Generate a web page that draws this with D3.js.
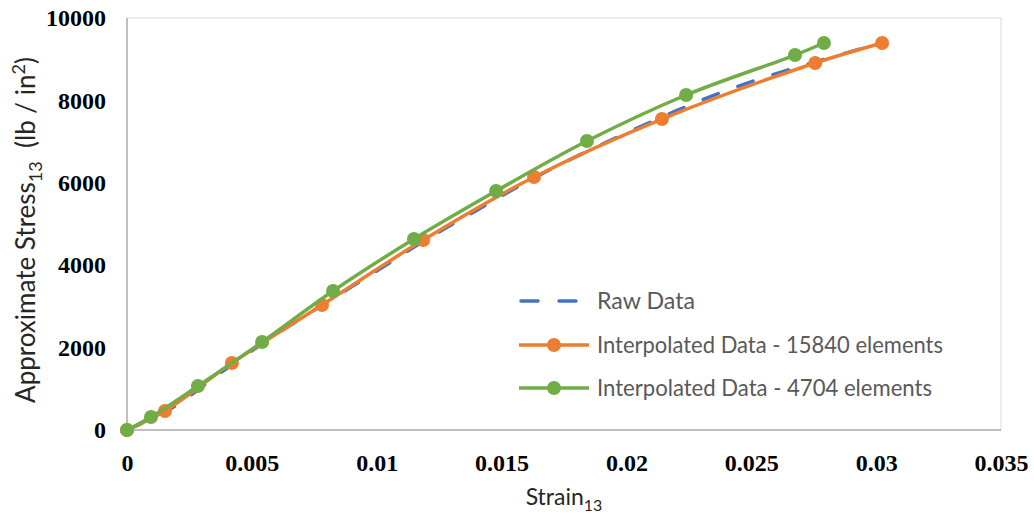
<!DOCTYPE html>
<html>
<head>
<meta charset="utf-8">
<script src="https://cdn.jsdelivr.net/npm/d3@7"></script>
<style>
  body { margin: 0; background: #fff; }
  #vis svg { display: block; }
</style>
</head>
<body>
<div id="vis"></div>
<script>
// data
let rawStrain = [0, 0.001, 0.002, 0.004, 0.006, 0.008, 0.01, 0.012, 0.014, 0.016, 0.018, 0.02, 0.022, 0.024, 0.026, 0.028, 0.0302];
let rawStress = [0, 280, 610, 1500, 2330, 3100, 3860, 4630, 5330, 6020, 6640, 7210, 7750, 8240, 8650, 9010, 9390];

let fineStrain = [0, 0.00152, 0.0042, 0.00781, 0.01186, 0.0163, 0.02142, 0.02756, 0.03024];
let fineStress = [0, 461, 1626, 3034, 4611, 6140, 7548, 8907, 9393];

let coarseStrain = [0, 0.00096, 0.00284, 0.00541, 0.00825, 0.01149, 0.01478, 0.01842, 0.02239, 0.02675, 0.02791];
let coarseStress = [0, 316, 1068, 2136, 3374, 4636, 5800, 7014, 8131, 9101, 9393];

let xTicks = [0, 0.005, 0.01, 0.015, 0.02, 0.025, 0.03, 0.035];
let yTicks = [0, 2000, 4000, 6000, 8000, 10000];

let seriesNames = ['Raw Data', 'Interpolated Data - 15840 elements', 'Interpolated Data - 4704 elements'];

let W = 1034, H = 516;
let plot = { left: 127, right: 1001, top: 18, bottom: 430 };

let svg = d3.select('#vis')
  .append('svg')
  .attr('width', W)
  .attr('height', H)
  .style('background-color', 'white');

let x = d3.scaleLinear().domain([0, 0.035]).range([plot.left, plot.right]);
let y = d3.scaleLinear().domain([0, 10000]).range([plot.bottom, plot.top]);

// plot area border
svg.append('rect')
  .attr('x', plot.left).attr('y', plot.top)
  .attr('width', plot.right - plot.left).attr('height', plot.bottom - plot.top)
  .attr('fill', 'none').attr('stroke', '#d9d9d9').attr('stroke-width', 1);
svg.append('line')
  .attr('x1', plot.left).attr('x2', plot.left).attr('y1', plot.top).attr('y2', plot.bottom)
  .attr('stroke', '#bfbfbf').attr('stroke-width', 2);
svg.append('line')
  .attr('x1', plot.left).attr('x2', plot.right).attr('y1', plot.bottom).attr('y2', plot.bottom)
  .attr('stroke', '#bfbfbf').attr('stroke-width', 2);

// axes (labels only, Excel style)
let xAxis = svg.append('g')
  .attr('transform', `translate(0,${plot.bottom})`)
  .call(d3.axisBottom(x).tickValues(xTicks).tickSize(0).tickPadding(24).tickFormat(d => d3.format('')(d)));
let yAxis = svg.append('g')
  .attr('transform', `translate(${plot.left},0)`)
  .call(d3.axisLeft(y).tickValues(yTicks).tickSize(0).tickPadding(21).tickFormat(d3.format('')));
[xAxis, yAxis].forEach(g => {
  g.select('.domain').remove();
  g.selectAll('text')
    .attr('fill', '#000')
    .style('font-family', '"Liberation Serif", "Times New Roman", serif')
    .style('font-weight', 'bold')
    .style('font-size', '24px');
});

// series
let toPts = (xs, ys) => xs.map((v, i) => [x(v), y(ys[i])]);
let line = d3.line().curve(d3.curveCatmullRom);

let series = [
  { pts: toPts(rawStrain, rawStress), color: '#4472c4', dash: '16,21', markers: false },
  { pts: toPts(fineStrain, fineStress), color: '#ed7d31', dash: null, markers: true },
  { pts: toPts(coarseStrain, coarseStress), color: '#70ad47', dash: null, markers: true },
];

series.forEach(s => {
  svg.append('path')
    .attr('d', line(s.pts))
    .attr('fill', 'none')
    .attr('stroke', s.color)
    .attr('stroke-width', 3.5)
    .attr('stroke-linecap', 'round')
    .attr('stroke-dasharray', s.dash);
  if (s.markers) {
    svg.append('g').selectAll('circle')
      .data(s.pts)
      .join('circle')
      .attr('cx', d => d[0]).attr('cy', d => d[1])
      .attr('r', 7)
      .attr('fill', s.color);
  }
});

// legend
let legendFont = 'Lato, "Open Sans", sans-serif';
let legendRows = [301, 345, 388];
series.forEach((s, i) => {
  let g = svg.append('g').attr('transform', `translate(0,${legendRows[i]})`);
  g.append('line')
    .attr('x1', s.markers ? 519 : 521).attr('x2', s.markers ? 589 : 587)
    .attr('stroke', s.color).attr('stroke-width', 3.5)
    .attr('stroke-linecap', s.markers ? 'butt' : 'round')
    .attr('stroke-dasharray', s.markers ? null : '17,21');
  if (s.markers) g.append('circle').attr('cx', 554).attr('r', 7).attr('fill', s.color);
  let widths = [98, 346, 335];
  g.append('text')
    .attr('x', 597).attr('y', 8)
    .attr('fill', '#595959')
    .style('font-family', legendFont)
    .style('font-size', '23px')
    .attr('textLength', widths[i])
    .attr('lengthAdjust', 'spacingAndGlyphs')
    .text(seriesNames[i]);
});

// axis titles
let titleFont = 'Lato, "Open Sans", sans-serif';
let xt = svg.append('text')
  .attr('x', (plot.left + plot.right) / 2)
  .attr('y', 505)
  .attr('text-anchor', 'middle')
  .attr('fill', '#262626')
  .style('font-family', titleFont)
  .style('font-size', '23px');
xt.append('tspan').text('Strain');
xt.append('tspan').attr('dy', 6).style('font-size', '16px').text('13');

let yt = svg.append('text')
  .attr('transform', `translate(35,230) rotate(-90)`)
  .attr('text-anchor', 'middle')
  .attr('fill', '#262626')
  .style('font-family', titleFont)
  .style('font-size', '26px');
yt.append('tspan').text('Approximate Stress');
yt.append('tspan').attr('dy', 7).style('font-size', '18px').text('13');
yt.append('tspan').attr('dy', -7).text('\u00a0 (lb / in');
yt.append('tspan').attr('dy', -10).style('font-size', '18px').text('2');
yt.append('tspan').attr('dy', 10).text(')');
</script>
</body>
</html>
